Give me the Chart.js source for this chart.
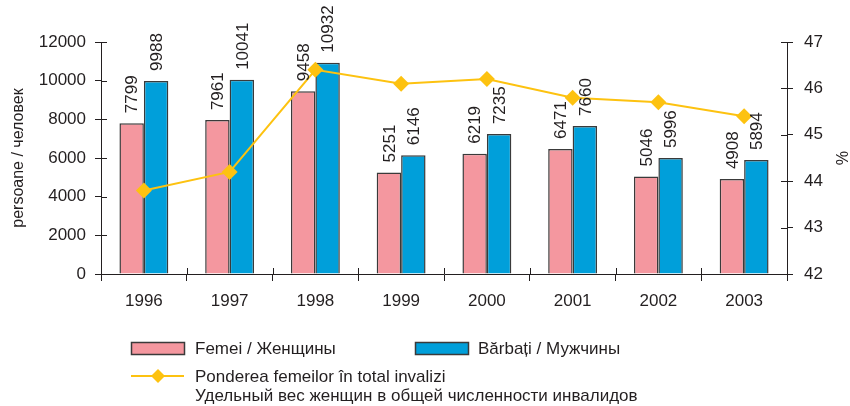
<!DOCTYPE html>
<html>
<head>
<meta charset="utf-8">
<style>
  html, body { margin: 0; padding: 0; background: #fff; }
  #wrap { width: 850px; height: 406px; position: relative; }
</style>
<script src="https://cdn.jsdelivr.net/npm/chart.js@4.4.1/dist/chart.umd.min.js"></script>
</head>
<body>
<div id="wrap"><canvas id="chart" width="850" height="406"></canvas></div>
<script>
// data
const years = ["1996", "1997", "1998", "1999", "2000", "2001", "2002", "2003"];
const women = [7799, 7961, 9458, 5251, 6219, 6471, 5046, 4908];
const men = [9988, 10041, 10932, 6146, 7235, 7660, 5996, 5894];
const womenShare = [43.8, 44.2, 46.4, 46.1, 46.2, 45.8, 45.7, 45.4];

const labelWomen = "Femei / Женщины";
const labelMen = "Bărbați / Мужчины";
const labelShare = ["Ponderea femeilor în total invalizi", "Удельный вес женщин в общей численности инвалидов"];

const PINK = "#f4979f";
const BLUE = "#009fda";
const GOLD = "#fdc210";
const INK = "#231f20";
const FONT = "'Liberation Sans', Arial, sans-serif";

// value labels rotated above bars, inner tick halves, legend
const decorPlugin = {
    id: "decor",
    afterDatasetsDraw(chart) {
        const ctx = chart.ctx;
        ctx.save();
        ctx.fillStyle = INK;
        ctx.font = "17px " + FONT;
        ctx.textAlign = "left";
        ctx.textBaseline = "middle";
        [0, 1].forEach((di) => {
            const meta = chart.getDatasetMeta(di);
            meta.data.forEach((bar, i) => {
                ctx.save();
                ctx.translate(bar.x + 1, bar.y - 10);
                ctx.rotate(-Math.PI / 2);
                ctx.fillText(String(chart.data.datasets[di].data[i]), 0, 0);
                ctx.restore();
            });
        });
        ctx.restore();
    },
    afterDraw(chart) {
        const ctx = chart.ctx;
        const area = chart.chartArea;
        ctx.save();
        ctx.strokeStyle = INK;
        ctx.lineWidth = 1;
        // inner half of tick marks
        const y = chart.scales.y;
        y.ticks.forEach((t, i) => {
            const py = Math.round(y.getPixelForTick(i)) + 0.5;
            ctx.beginPath();
            ctx.moveTo(area.left, py);
            ctx.lineTo(area.left + 6, py);
            ctx.stroke();
        });
        const y2 = chart.scales.y2;
        y2.ticks.forEach((t, i) => {
            const py = Math.round(y2.getPixelForTick(i)) + 0.5;
            ctx.beginPath();
            ctx.moveTo(area.right - 6, py);
            ctx.lineTo(area.right, py);
            ctx.stroke();
        });
        for (let i = 0; i <= years.length; i++) {
            const px = Math.round(area.left + (area.right - area.left) * i / years.length) + 0.5;
            ctx.beginPath();
            ctx.moveTo(px, area.bottom - 6);
            ctx.lineTo(px, area.bottom);
            ctx.stroke();
        }

        // legend
        ctx.font = "17px " + FONT;
        ctx.textBaseline = "middle";
        ctx.textAlign = "left";
        ctx.lineWidth = 1.5;
        ctx.fillStyle = PINK;
        ctx.fillRect(131.5, 342.5, 53, 12);
        ctx.strokeStyle = "#3a3a3a";
        ctx.strokeRect(131.5, 342.5, 53, 12);
        ctx.fillStyle = INK;
        ctx.fillText(labelWomen, 195, 349);

        ctx.fillStyle = BLUE;
        ctx.fillRect(415.5, 342.5, 53, 12);
        ctx.strokeRect(415.5, 342.5, 53, 12);
        ctx.fillStyle = INK;
        ctx.fillText(labelMen, 478, 349);

        ctx.strokeStyle = GOLD;
        ctx.lineWidth = 2;
        ctx.beginPath();
        ctx.moveTo(131, 376);
        ctx.lineTo(184, 376);
        ctx.stroke();
        ctx.fillStyle = GOLD;
        ctx.beginPath();
        ctx.moveTo(158, 369);
        ctx.lineTo(165, 376);
        ctx.lineTo(158, 383);
        ctx.lineTo(151, 376);
        ctx.closePath();
        ctx.fill();
        ctx.fillStyle = INK;
        ctx.fillText(labelShare[0], 195, 377);
        ctx.fillText(labelShare[1], 195, 396);
        ctx.restore();
    }
};

const ctx = document.getElementById("chart");
new Chart(ctx, {
    type: "bar",
    data: {
        labels: years,
        datasets: [
            {
                label: labelWomen,
                data: women,
                backgroundColor: PINK,
                borderColor: "#3a3a3a",
                borderWidth: 1.5,
                yAxisID: "y",
                order: 2,
                categoryPercentage: 0.57,
                barPercentage: 1.0,
            },
            {
                label: labelMen,
                data: men,
                backgroundColor: BLUE,
                borderColor: "#3a3a3a",
                borderWidth: 1.5,
                yAxisID: "y",
                order: 2,
                categoryPercentage: 0.57,
                barPercentage: 1.0,
            },
            {
                type: "line",
                label: labelShare.join(" "),
                data: womenShare,
                borderColor: GOLD,
                backgroundColor: GOLD,
                borderWidth: 2,
                pointStyle: "rectRot",
                pointRadius: 8,
                pointBorderWidth: 0,
                yAxisID: "y2",
                order: 1,
                tension: 0,
            },
        ],
    },
    options: {
        responsive: false,
        animation: false,
        layout: { padding: { top: 42, left: 0, right: 0, bottom: 0 } },
        plugins: {
            legend: { display: false },
            tooltip: { enabled: false },
        },
        scales: {
            x: {
                offset: true,
                grid: { drawOnChartArea: false, drawTicks: true, tickLength: 7, color: INK, offset: true },
                border: { color: INK, width: 1 },
                ticks: { color: INK, font: { family: FONT, size: 17 }, padding: 10, maxRotation: 0 },
                afterFit(scale) { scale.height = 132; },
            },
            y: {
                position: "left",
                min: 0,
                max: 12000,
                ticks: {
                    stepSize: 2000,
                    color: INK,
                    font: { family: FONT, size: 17 },
                    padding: 9,
                    callback: (v) => String(v),
                },
                grid: { drawOnChartArea: false, drawTicks: true, tickLength: 6, color: INK },
                border: { color: INK, width: 1 },
                title: { display: true, text: "persoane / человек", color: INK, font: { family: FONT, size: 16 }, padding: { top: 9, bottom: 0 } },
                afterFit(scale) { scale.width = 101; },
            },
            y2: {
                position: "right",
                min: 42,
                max: 47,
                ticks: { stepSize: 1, color: INK, font: { family: FONT, size: 17 }, padding: 11 },
                grid: { drawOnChartArea: false, drawTicks: true, tickLength: 6, color: INK },
                border: { color: INK, width: 1 },
                title: { display: true, text: "%", color: INK, font: { family: FONT, size: 16 }, padding: { top: 0, bottom: 0 } },
                afterFit(scale) { scale.width = 63; },
            },
        },
    },
    plugins: [decorPlugin],
});
</script>
</body>
</html>
